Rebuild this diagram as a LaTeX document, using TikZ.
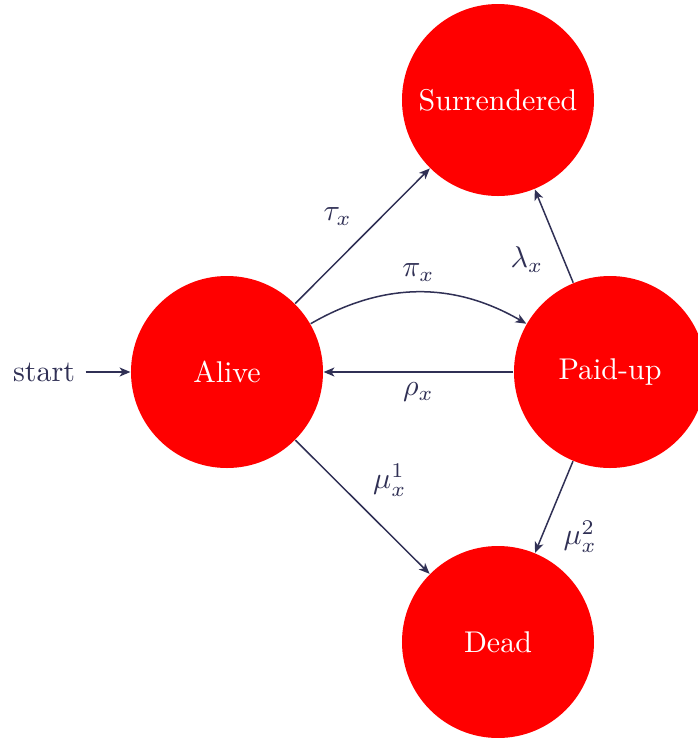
\documentclass[tikz,border=0pt]{standalone}
\usetikzlibrary{arrows.meta}
\definecolor{edgec}{RGB}{48,48,85}
\begin{document}
\begin{tikzpicture}[x=0.33333pt,y=-0.33333pt,
  state/.style={circle,fill=red,text=white,minimum size=64pt,inner sep=0pt},
  trans/.style={draw=edgec,line width=0.5pt,-{Stealth[length=3.6pt,width=3pt,inset=1pt]}},
  lab/.style={text=edgec}]
\useasboundingbox (0,0) rectangle (698,738);
\node[state] (alive) at (227,372) {Alive};
\node[state] (paid) at (610,372) {Paid-up};
\node[state] (surr) at (498,100) {Surrendered};
\node[state] (dead) at (498,642) {Dead};
\node[lab] (start) at (44,372) {start};
\draw[trans] (start) -- (alive);
\draw[trans] (alive) -- node[lab,above left,pos=0.5] {$\tau_x$} (surr);
\draw[trans] (alive) -- node[lab,above right,pos=0.5] {$\mu_x^1$} (dead);
\draw[trans] (alive) to[bend left=30] node[lab,above] {$\pi_x$} (paid);
\draw[trans] (paid) -- node[lab,below] {$\rho_x$} (alive);
\draw[trans] (paid) -- node[lab,below left,pos=0.5] {$\lambda_x$} (surr);
\draw[trans] (paid) -- node[lab,below right,pos=0.53] {$\mu_x^2$} (dead);
\end{tikzpicture}
\end{document}
